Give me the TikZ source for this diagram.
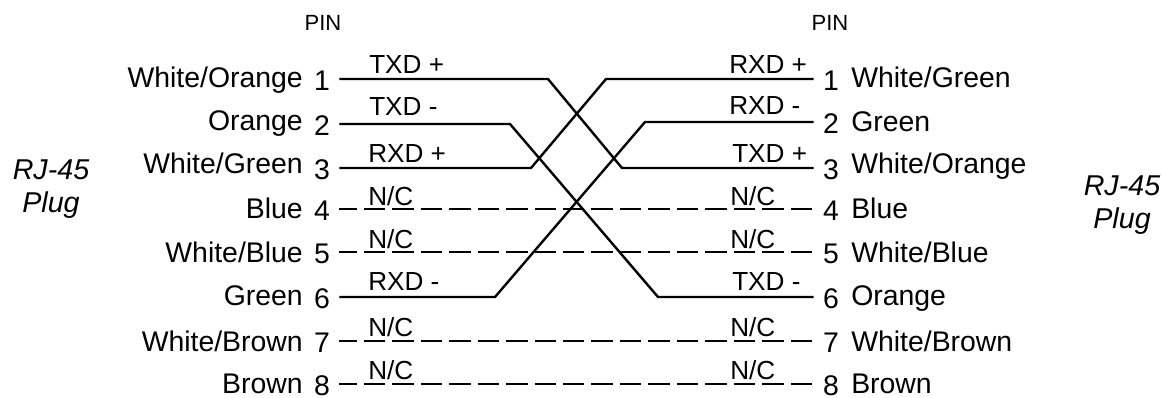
\documentclass[tikz,border=0pt]{standalone}
\usepackage{fontspec}
\setmainfont{Liberation Sans}
\tikzset{%
  sigwire/.style = {line width=1.8pt},
  ncwire/.style = {line width=1.6pt,dash pattern=on 16.1pt off 5.25pt,dash phase=3pt},
  pinnum/.style = {inner sep=0pt,minimum width=25.5pt,text height=16.5pt,text depth=0pt,font=\fontsize{21.3}{21.3}\selectfont},
  wirename/.style = {inner sep=0pt,font=\fontsize{21.3}{21.3}\selectfont},
  leftname/.style = {wirename,anchor=base east},
  rightname/.style = {wirename,anchor=base west},
  siglabel/.style = {inner sep=0pt,anchor=base west,font=\fontsize{19.6}{19.6}\selectfont},
  pinhead/.style = {inner sep=0pt,anchor=base,font=\fontsize{16.5}{16.5}\selectfont},
  plugname/.style = {inner sep=0pt,anchor=base,font=\itshape\fontsize{21.5}{21.5}\selectfont}
}
\begin{document}
\begin{tikzpicture}[x=.75pt,y=-.75pt]
    \useasboundingbox (0,0) rectangle (1162,397);
    % headers
    \node[pinhead] (pinl) at (323,30) {PIN};
    \node[pinhead] (pinr) at (830,30) {PIN};
    \node[plugname] (plugl1) at (51,179) {RJ-45};
    \node[plugname] (plugl2) at (51,212) {Plug};
    \node[plugname] (plugr1) at (1122,195) {RJ-45};
    \node[plugname] (plugr2) at (1122,228) {Plug};
    % left pins
    \node[pinnum] (l1) at (322,79) {1};
    \node[pinnum] (l2) at (322,124) {2};
    \node[pinnum] (l3) at (322,168) {3};
    \node[pinnum] (l4) at (322,209) {4};
    \node[pinnum] (l5) at (322,252) {5};
    \node[pinnum] (l6) at (322,297) {6};
    \node[pinnum] (l7) at (322,341) {7};
    \node[pinnum] (l8) at (322,384) {8};
    % right pins
    \node[pinnum] (r1) at (831,79) {1};
    \node[pinnum] (r2) at (831,122) {2};
    \node[pinnum] (r3) at (831,168) {3};
    \node[pinnum] (r4) at (831,209) {4};
    \node[pinnum] (r5) at (831,252) {5};
    \node[pinnum] (r6) at (831,297) {6};
    \node[pinnum] (r7) at (831,341) {7};
    \node[pinnum] (r8) at (831,384) {8};
    % left colours
    \node[leftname] (cl1) at (303,87) {White/Orange};
    \node[leftname] (cl2) at (303,130) {Orange};
    \node[leftname] (cl3) at (303,173) {White/Green};
    \node[leftname] (cl4) at (303,218) {Blue};
    \node[leftname] (cl5) at (303,262) {White/Blue};
    \node[leftname] (cl6) at (303,305) {Green};
    \node[leftname] (cl7) at (303,351) {White/Brown};
    \node[leftname] (cl8) at (303,393) {Brown};
    % right colours
    \node[rightname] (cr1) at (851,87) {White/Green};
    \node[rightname] (cr2) at (851,131) {Green};
    \node[rightname] (cr3) at (851,173) {White/Orange};
    \node[rightname] (cr4) at (851,218) {Blue};
    \node[rightname] (cr5) at (851,262) {White/Blue};
    \node[rightname] (cr6) at (851,305) {Orange};
    \node[rightname] (cr7) at (851,351) {White/Brown};
    \node[rightname] (cr8) at (851,393) {Brown};
    % crossing bends
    \coordinate (b1) at (548,79);
    \coordinate (b1r) at (622,168);
    \coordinate (b2) at (510,124);
    \coordinate (b2r) at (658,297);
    \coordinate (b3) at (531,168);
    \coordinate (b3r) at (606,79);
    \coordinate (b6) at (495,297);
    \coordinate (b6r) at (645,122);
    % crossed pairs
    \draw [sigwire] (l1.east) -- (b1) -- (b1r) -- (r3.west);
    \draw [sigwire] (l2.east) -- (b2) -- (b2r) -- (r6.west);
    \draw [sigwire] (l3.east) -- (b3) -- (b3r) -- (r1.west);
    \draw [sigwire] (l6.east) -- (b6) -- (b6r) -- (r2.west);
    % unused pairs
    \draw [ncwire] (l4.east) -- (r4.west);
    \draw [ncwire] (l5.east) -- (r5.west);
    \draw [ncwire] (l7.east) -- (r7.west);
    \draw [ncwire] (l8.east) -- (r8.west);
    % signal names
    \node[siglabel] (sl1) at (369,73) {TXD +};
    \node[siglabel] (sl2) at (369,115) {TXD -};
    \node[siglabel] (sl3) at (368,162) {RXD +};
    \node[siglabel] (sl4) at (368,205) {N/C};
    \node[siglabel] (sl5) at (368,248) {N/C};
    \node[siglabel] (sl6) at (368,290) {RXD -};
    \node[siglabel] (sl7) at (368,336) {N/C};
    \node[siglabel] (sl8) at (368,379) {N/C};
    \node[siglabel] (sr1) at (729,73) {RXD +};
    \node[siglabel] (sr2) at (729,114) {RXD -};
    \node[siglabel] (sr3) at (732,162) {TXD +};
    \node[siglabel] (sr4) at (730,205) {N/C};
    \node[siglabel] (sr5) at (730,248) {N/C};
    \node[siglabel] (sr6) at (732,290) {TXD -};
    \node[siglabel] (sr7) at (730,336) {N/C};
    \node[siglabel] (sr8) at (730,379) {N/C};
\end{tikzpicture}
\end{document}
